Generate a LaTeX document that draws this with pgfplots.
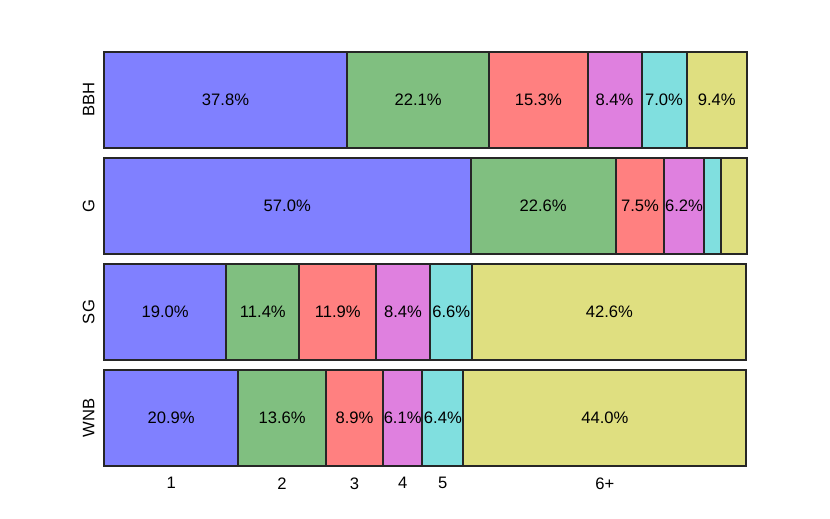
\documentclass[border=0pt]{standalone}
\usepackage{pgfplots}
\pgfplotsset{compat=1.18}
\usepackage{fontspec}
\setmainfont{Liberation Sans}
\definecolor{c1}{RGB}{128,128,255}
\definecolor{c2}{RGB}{128,191,128}
\definecolor{c3}{RGB}{255,128,128}
\definecolor{c4}{RGB}{223,128,223}
\definecolor{c5}{RGB}{128,223,223}
\definecolor{c6}{RGB}{223,223,128}
\newcommand{\ff}{\fontsize{16.6}{19}\selectfont}
\pgfplotsset{
  base/.style={
    scale only axis, width=643pt, height=414pt,
    xmin=0, xmax=100, ymin=-0.45, ymax=3.45,
    clip=false,
    font=\ff,
    ticklabel style={font=\ff},
    /pgf/number format/assume math mode=true,
  },
  seg/.style={fill=#1, draw=black!85, line width=2pt},
}
\begin{document}
\begin{tikzpicture}
\begin{axis}[base,
  xbar stacked, bar width=0.9,
  axis line style={draw=none}, major tick length=0pt,
  ytick={0,1,2,3}, yticklabels={WNB,SG,G,BBH},
  yticklabel style={rotate=90, anchor=south, yshift=6pt},
  xtick={10.45,27.7,38.95,46.45,52.7,77.9},
  xticklabels={1,2,3,4,5,6+},
  xticklabel style={yshift=-8pt},
]
\addplot[seg=c1] coordinates {(20.9,0) (19.0,1) (57.0,2) (37.8,3)};
\addplot[seg=c2] coordinates {(13.6,0) (11.4,1) (22.6,2) (22.1,3)};
\addplot[seg=c3] coordinates {(8.9,0) (11.9,1) (7.5,2) (15.3,3)};
\addplot[seg=c4] coordinates {(6.1,0) (8.4,1) (6.2,2) (8.4,3)};
\addplot[seg=c5] coordinates {(6.4,0) (6.6,1) (2.6,2) (7.0,3)};
\addplot[seg=c6] coordinates {(44.0,0) (42.6,1) (4.1,2) (9.4,3)};
\end{axis}
\begin{axis}[base, hide axis]
\addplot[draw=none, mark=none, nodes near coords, point meta=explicit symbolic,
  every node near coord/.append style={anchor=center, inner sep=0pt, font=\ff}]
coordinates {
 (18.9,3)[37.8\%] (48.85,3)[22.1\%] (67.55,3)[15.3\%] (79.4,3)[8.4\%] (87.1,3)[7.0\%] (95.3,3)[9.4\%]
 (28.5,2)[57.0\%] (68.3,2)[22.6\%] (83.35,2)[7.5\%] (90.2,2)[6.2\%]
 (9.5,1)[19.0\%] (24.7,1)[11.4\%] (36.35,1)[11.9\%] (46.5,1)[8.4\%] (54.0,1)[6.6\%] (78.6,1)[42.6\%]
 (10.45,0)[20.9\%] (27.7,0)[13.6\%] (38.95,0)[8.9\%] (46.45,0)[6.1\%] (52.7,0)[6.4\%] (77.9,0)[44.0\%]
};
\end{axis}
\path (-104pt,-53pt) rectangle (726pt,466pt);
\end{tikzpicture}
\end{document}
